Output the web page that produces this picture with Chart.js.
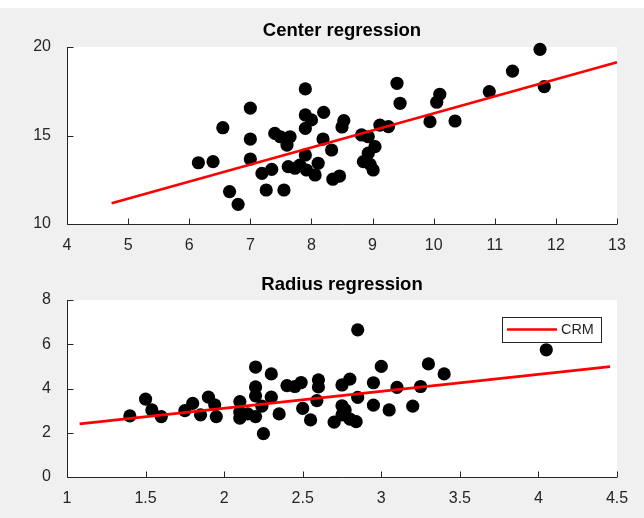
<!DOCTYPE html>
<html>
<head>
<meta charset="utf-8">
<script src="https://cdn.jsdelivr.net/npm/chart.js@4.4.1/dist/chart.umd.min.js"></script>
<style>
  html, body { margin: 0; padding: 0; background: #f0f0f0; }
  body { width: 644px; height: 518px; position: relative; overflow: hidden; }
  #strip { position: absolute; left: 0; top: 0; width: 644px; height: 8px; background: #fff; }
  .box { position: absolute; left: 0; width: 644px; }
</style>
</head>
<body>
<div id="strip"></div>
<div class="box" style="top:0;height:260px"><canvas id="center"></canvas></div>
<div class="box" style="top:260px;height:258px"><canvas id="radius"></canvas></div>
<script>
// center regression: scatter points and fitted line
const centerX = [6.15, 6.39, 6.55, 6.66, 6.80, 7.00, 7.00, 7.00, 7.19, 7.26, 7.35, 7.40, 7.49, 7.55,
  7.60, 7.62, 7.65, 7.73, 7.81, 7.90, 7.90, 7.90, 7.90, 7.92, 8.00, 8.06, 8.11, 8.19, 8.20, 8.33,
  8.35, 8.46, 8.50, 8.53, 8.82, 8.93, 8.85, 8.93, 8.96, 9.01, 9.04, 9.12, 9.26, 9.40, 9.45, 9.94,
  10.05, 10.10, 10.35, 10.91, 11.29, 11.74, 11.81];
const centerY = [13.46, 13.52, 15.44, 11.83, 11.11, 16.55, 14.80, 13.67, 12.86, 11.92, 13.09, 15.12, 14.93, 11.92,
  14.46, 13.24, 14.93, 13.15, 13.33, 17.63, 16.16, 15.40, 13.90, 13.05, 15.88, 12.77, 13.43, 14.80, 16.31, 14.18,
  12.53, 12.71, 15.48, 15.84, 15.03, 14.93, 13.52, 14.00, 13.37, 13.05, 14.37, 15.59, 15.50, 17.95, 16.82, 15.78,
  16.88, 17.33, 15.82, 17.48, 18.64, 19.87, 17.76];
const centerFitX = [4.73, 13];
const centerFitY = [11.17, 19.14];
const centerXTicks = [4, 5, 6, 7, 8, 9, 10, 11, 12, 13];
const centerYTicks = [10, 15, 20];

// radius regression
const radiusX = [1.40, 1.50, 1.54, 1.60, 1.75, 1.80, 1.85, 1.90, 1.94, 1.95, 2.10, 2.10, 2.10, 2.15,
  2.20, 2.20, 2.20, 2.20, 2.24, 2.25, 2.30, 2.30, 2.35, 2.40, 2.45, 2.49, 2.50, 2.55, 2.59, 2.60,
  2.60, 2.70, 2.75, 2.75, 2.77, 2.75, 2.80, 2.80, 2.84, 2.85, 2.85, 2.95, 2.95, 3.00, 3.05, 3.10,
  3.20, 3.25, 3.30, 3.40, 4.05];
const radiusY = [2.76, 3.52, 3.03, 2.73, 3.00, 3.33, 2.81, 3.61, 3.26, 2.73, 3.41, 2.93, 2.66, 2.85,
  4.97, 4.07, 3.67, 2.73, 3.20, 1.96, 4.66, 3.61, 2.85, 4.13, 4.09, 4.27, 3.10, 2.58, 3.45, 4.39,
  4.07, 2.48, 4.16, 3.22, 3.03, 2.81, 4.42, 2.62, 2.50, 3.60, 6.65, 4.26, 3.25, 5.00, 3.03, 4.05,
  3.20, 4.09, 5.11, 4.66, 5.75];
const radiusFitX = [1.08, 4.456];
const radiusFitY = [2.40, 4.99];
const radiusXTicks = [1, 1.5, 2, 2.5, 3, 3.5, 4, 4.5];
const radiusYTicks = [0, 2, 4, 6, 8];

const fitLabel = 'CRM';
const axisColor = '#262626';
const font = "'Liberation Sans', Arial, sans-serif";

const pts = (xs, ys) => xs.map((x, i) => ({ x: x, y: ys[i] }));

// white plot background, axis lines and inward ticks like matlab
const axesPlugin = {
  id: 'axes',
  beforeDraw(chart) {
    const a = chart.chartArea, ctx = chart.ctx;
    ctx.save();
    ctx.fillStyle = '#fff';
    ctx.fillRect(a.left, a.top, a.right - a.left, a.bottom - a.top);
    ctx.restore();
  },
  afterDraw(chart) {
    const a = chart.chartArea, ctx = chart.ctx;
    const xs = chart.scales.x, ys = chart.scales.y;
    const L = Math.round(a.left) + 0.5, B = Math.round(a.bottom) + 0.5;
    ctx.save();
    ctx.strokeStyle = axisColor;
    ctx.lineWidth = 1;
    ctx.beginPath();
    ctx.moveTo(L, Math.round(a.top));
    ctx.lineTo(L, B);
    ctx.lineTo(Math.round(a.right), B);
    xs.ticks.forEach(t => {
      const px = Math.round(xs.getPixelForValue(t.value)) + 0.5;
      ctx.moveTo(px, B);
      ctx.lineTo(px, B - 6);
    });
    ys.ticks.forEach(t => {
      const py = Math.round(ys.getPixelForValue(t.value)) + 0.5;
      ctx.moveTo(L, py);
      ctx.lineTo(L + 6, py);
    });
    ctx.stroke();
    ctx.restore();
  }
};

// title centred over the axes box, not the whole canvas
const axesTitle = {
  id: 'axesTitle',
  afterDraw(chart, args, opts) {
    const a = chart.chartArea, ctx = chart.ctx;
    ctx.save();
    ctx.fillStyle = '#000';
    ctx.font = 'bold 18.5px ' + font;
    ctx.textAlign = 'center';
    ctx.textBaseline = 'middle';
    ctx.fillText(opts.text, (a.left + a.right) / 2, a.top - opts.gap);
    ctx.restore();
  }
};

// boxed legend inside the axes (top right)
const insideLegend = {
  id: 'insideLegend',
  afterDraw(chart, args, opts) {
    if (!opts.show) return;
    const a = chart.chartArea, ctx = chart.ctx;
    const ds = chart.data.datasets[0];
    const x = a.left + opts.dx, y = a.top + opts.dy, w = 99, h = 25;
    ctx.save();
    ctx.fillStyle = '#fff';
    ctx.fillRect(x, y, w, h);
    ctx.strokeStyle = axisColor;
    ctx.lineWidth = 1;
    ctx.strokeRect(Math.round(x) + 0.5, Math.round(y) + 0.5, w, h);
    ctx.strokeStyle = ds.borderColor;
    ctx.lineWidth = ds.borderWidth;
    ctx.beginPath();
    ctx.moveTo(x + 5, y + 12.5);
    ctx.lineTo(x + 55, y + 12.5);
    ctx.stroke();
    ctx.fillStyle = axisColor;
    ctx.font = '14.4px ' + font;
    ctx.textBaseline = 'middle';
    ctx.fillText(ds.label, x + 59, y + 13);
    ctx.restore();
  }
};

function makeChart(id, cfg) {
  return new Chart(document.getElementById(id), {
    type: 'scatter',
    data: {
      datasets: [
        {
          type: 'line',
          label: fitLabel,
          data: pts(cfg.fitX, cfg.fitY),
          borderColor: '#ff0000',
          borderWidth: 2.6,
          pointRadius: 0,
          fill: false,
          order: 0,
          clip: false
        },
        {
          label: 'data',
          data: pts(cfg.x, cfg.y),
          backgroundColor: '#000',
          borderWidth: 0,
          pointRadius: 6.6,
          order: 1,
          clip: false
        }
      ]
    },
    options: {
      responsive: true,
      maintainAspectRatio: false,
      animation: false,
      layout: { padding: { left: 0, right: 27, top: cfg.topPad, bottom: cfg.bottomPad } },
      plugins: {
        legend: { display: false },
        tooltip: { enabled: false },
        title: { display: false },
        axesTitle: { text: cfg.title, gap: cfg.titleGap },
        insideLegend: cfg.legend
      },
      scales: {
        x: {
          type: 'linear',
          min: cfg.xTicks[0],
          max: cfg.xTicks[cfg.xTicks.length - 1],
          afterBuildTicks: s => { s.ticks = cfg.xTicks.map(v => ({ value: v })); },
          afterFit: s => { s.height = 30; },
          grid: { display: false },
          border: { display: false },
          ticks: {
            color: axisColor, padding: 4, maxRotation: 0, autoSkip: false,
            font: { family: font, size: 16 },
            callback: v => String(v)
          }
        },
        y: {
          type: 'linear',
          min: cfg.yTicks[0],
          max: cfg.yTicks[cfg.yTicks.length - 1],
          afterBuildTicks: s => { s.ticks = cfg.yTicks.map(v => ({ value: v })); },
          afterFit: s => { s.width = 67; },
          grid: { display: false },
          border: { display: false },
          ticks: {
            color: axisColor, padding: 8, autoSkip: false,
            font: { family: font, size: 16 },
            callback: v => String(v)
          }
        }
      }
    },
    plugins: [axesPlugin, axesTitle, insideLegend]
  });
}

makeChart('center', {
  title: 'Center regression',
  x: centerX, y: centerY, fitX: centerFitX, fitY: centerFitY,
  xTicks: centerXTicks, yTicks: centerYTicks,
  topPad: 47, bottomPad: 6, titleGap: 16,
  legend: { show: false }
});

makeChart('radius', {
  title: 'Radius regression',
  x: radiusX, y: radiusY, fitX: radiusFitX, fitY: radiusFitY,
  xTicks: radiusXTicks, yTicks: radiusYTicks,
  topPad: 40, bottomPad: 11, titleGap: 15,
  legend: { show: true, dx: 435, dy: 17 }
});
</script>
</body>
</html>
